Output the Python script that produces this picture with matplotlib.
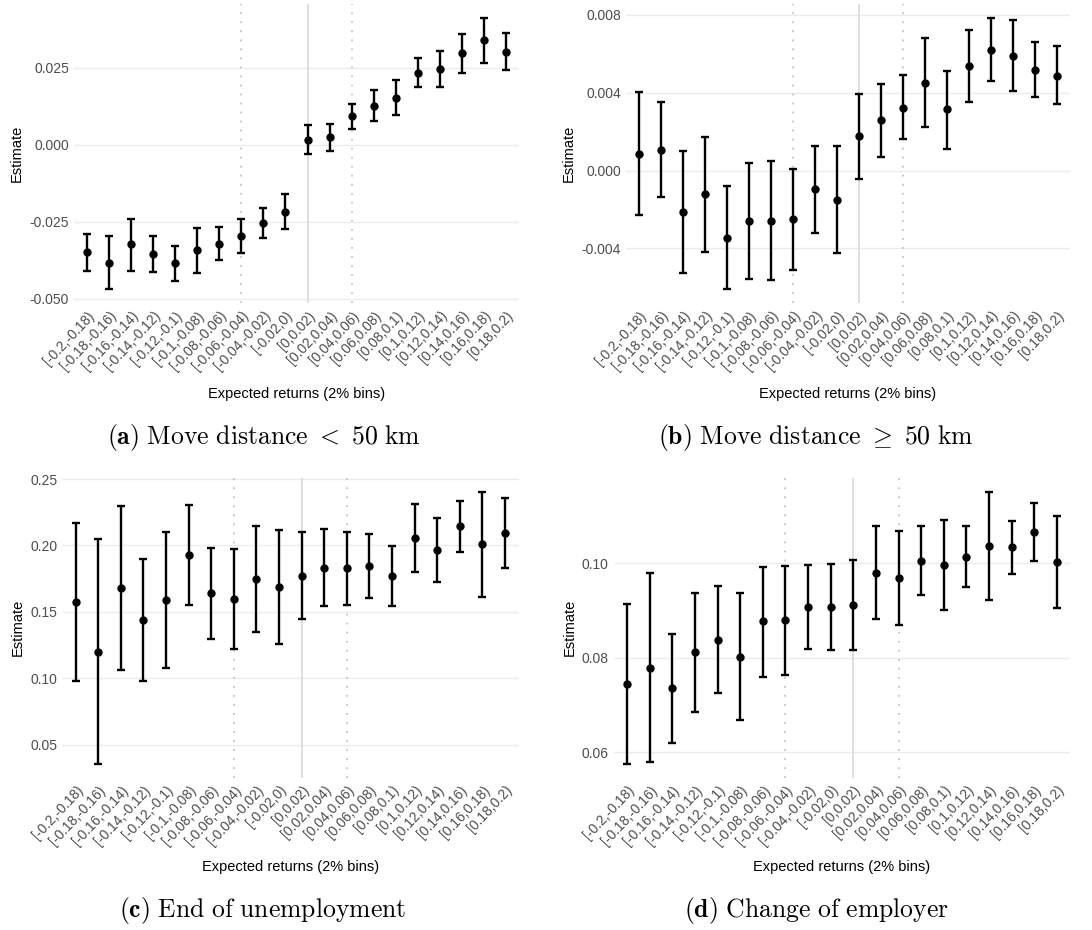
import numpy as np
import matplotlib
matplotlib.use("Agg")
import matplotlib.pyplot as plt
from matplotlib.ticker import FormatStrFormatter

plt.rcParams['font.family'] = ['Liberation Sans', 'DejaVu Sans']
plt.rcParams['mathtext.fontset'] = 'cm'

bins = ["[-0.2,-0.18)", "[-0.18,-0.16)", "[-0.16,-0.14)", "[-0.14,-0.12)", "[-0.12,-0.1)",
        "[-0.1,-0.08)", "[-0.08,-0.06)", "[-0.06,-0.04)", "[-0.04,-0.02)", "[-0.02,0)",
        "[0,0.02)", "[0.02,0.04)", "[0.04,0.06)", "[0.06,0.08)", "[0.08,0.1)",
        "[0.1,0.12)", "[0.12,0.14)", "[0.14,0.16)", "[0.16,0.18)", "[0.18,0.2)"]

# (a) move distance < 50 km
est_a = [-0.0347, -0.0383, -0.0323, -0.0354, -0.0384, -0.0342, -0.0320, -0.0295, -0.0253, -0.0216,
         0.0016, 0.0025, 0.0094, 0.0127, 0.0154, 0.0234, 0.0248, 0.0298, 0.0340, 0.0303]
lo_a = [-0.0408, -0.0469, -0.0410, -0.0413, -0.0441, -0.0416, -0.0373, -0.0351, -0.0303, -0.0274,
        -0.0029, -0.0019, 0.0053, 0.0077, 0.0098, 0.0187, 0.0189, 0.0235, 0.0267, 0.0243]
hi_a = [-0.0288, -0.0296, -0.0239, -0.0296, -0.0327, -0.0268, -0.0266, -0.0241, -0.0204, -0.0158,
        0.0064, 0.0067, 0.0134, 0.0178, 0.0210, 0.0281, 0.0306, 0.0360, 0.0412, 0.0364]

# (b) move distance >= 50 km
est_b = [0.00087, 0.00108, -0.00215, -0.00121, -0.00345, -0.00259, -0.00258, -0.00251, -0.00096, -0.00149,
         0.00176, 0.00258, 0.00324, 0.00451, 0.00314, 0.00536, 0.00621, 0.00589, 0.00519, 0.00488]
lo_b = [-0.00230, -0.00138, -0.00529, -0.00417, -0.00611, -0.00558, -0.00565, -0.00512, -0.00319, -0.00423,
        -0.00043, 0.00072, 0.00162, 0.00222, 0.00113, 0.00352, 0.00461, 0.00408, 0.00379, 0.00341]
hi_b = [0.00403, 0.00355, 0.00101, 0.00174, -0.00077, 0.00041, 0.00048, 0.00009, 0.00128, 0.00128,
        0.00393, 0.00446, 0.00490, 0.00679, 0.00512, 0.00722, 0.00784, 0.00773, 0.00661, 0.00638]

# (c) end of unemployment
est_c = [0.1572, 0.1200, 0.1682, 0.1436, 0.1589, 0.1928, 0.1639, 0.1599, 0.1747, 0.1684,
         0.1772, 0.1833, 0.1827, 0.1845, 0.1770, 0.2058, 0.1965, 0.2146, 0.2008, 0.2093]
lo_c = [0.0979, 0.0354, 0.1065, 0.0979, 0.1080, 0.1551, 0.1298, 0.1223, 0.1346, 0.1258,
        0.1444, 0.1541, 0.1551, 0.1602, 0.1546, 0.1802, 0.1725, 0.1953, 0.1614, 0.1827]
hi_c = [0.2166, 0.2048, 0.2299, 0.1898, 0.2101, 0.2307, 0.1981, 0.1973, 0.2149, 0.2114,
        0.2104, 0.2121, 0.2104, 0.2086, 0.1993, 0.2314, 0.2206, 0.2337, 0.2405, 0.2359]

# (d) change of employer
est_d = [0.0745, 0.0778, 0.0735, 0.0812, 0.0838, 0.0802, 0.0877, 0.0879, 0.0908, 0.0908,
         0.0912, 0.0980, 0.0968, 0.1006, 0.0997, 0.1014, 0.1037, 0.1034, 0.1066, 0.1003]
lo_d = [0.0575, 0.0578, 0.0619, 0.0685, 0.0725, 0.0668, 0.0760, 0.0763, 0.0819, 0.0816,
        0.0817, 0.0882, 0.0869, 0.0933, 0.0902, 0.0949, 0.0922, 0.0978, 0.1004, 0.0905]
hi_d = [0.0914, 0.0979, 0.0851, 0.0938, 0.0953, 0.0938, 0.0993, 0.0995, 0.0996, 0.0999,
        0.1008, 0.1079, 0.1068, 0.1080, 0.1092, 0.1080, 0.1152, 0.1090, 0.1128, 0.1100]

captions = [r"$\mathbf{(a)}\ \mathrm{Move\ distance}\ <\ 50\ \mathrm{km}$",
            r"$\mathbf{(b)}\ \mathrm{Move\ distance}\ \geq\ 50\ \mathrm{km}$",
            r"$\mathbf{(c)}\ \mathrm{End\ of\ unemployment}$",
            r"$\mathbf{(d)}\ \mathrm{Change\ of\ employer}$"]
yticks = [[-0.050, -0.025, 0.0, 0.025], [-0.004, 0.0, 0.004, 0.008],
          [0.05, 0.10, 0.15, 0.20, 0.25], [0.06, 0.08, 0.10]]
yfmt = ['%.3f', '%.3f', '%.2f', '%.2f']

W, H = 1092, 930
# axes boxes in pixels: left, right, top, bottom
boxes = [(74, 519, 4.5, 303), (626, 1070, 4.5, 303),
         (62, 518.6, 478, 777.5), (613.7, 1070.3, 478, 777.5)]
cap_pos = [(264, 437), (816, 437), (263, 910), (816, 910)]
xlab_y = [394, 394, 867, 867]

data = [(est_a, lo_a, hi_a), (est_b, lo_b, hi_b), (est_c, lo_c, hi_c), (est_d, lo_d, hi_d)]

fig = plt.figure(figsize=(W / 100, H / 100), dpi=100)
x = np.arange(len(bins))
for i, (est, lo, hi) in enumerate(data):
    l, r, t, b = boxes[i]
    ax = fig.add_axes([l / W, 1 - b / H, (r - l) / W, (b - t) / H])
    est = np.array(est); lo = np.array(lo); hi = np.array(hi)
    ax.axvline(10, color='#d9d9d9', lw=1.2, zorder=1)
    for v in (7, 12):
        ax.axvline(v, color='#c4c4c4', lw=1.3, ls=(0, (1, 4)), zorder=1)
    ax.errorbar(x, est, yerr=[est - lo, hi - est], fmt='o', color='black', ms=5,
                elinewidth=1.7, capsize=3, capthick=1.7, zorder=3)
    rng = hi.max() - lo.min()
    ax.set_ylim(lo.min() - 0.05 * rng, hi.max() + 0.05 * rng)
    ax.set_xlim(-0.6, len(bins) - 0.4)
    ax.set_yticks(yticks[i])
    ax.yaxis.set_major_formatter(FormatStrFormatter(yfmt[i]))
    ax.set_xticks(x)
    ax.set_xticklabels(bins, rotation=47, ha='right', rotation_mode='anchor')
    ax.grid(axis='y', color='#ebebeb', lw=1.0)
    ax.set_axisbelow(True)
    for s in ax.spines.values():
        s.set_visible(False)
    ax.tick_params(axis='both', length=0, labelsize=10, labelcolor='#4d4d4d')
    ax.tick_params(axis='x', pad=4)
    ax.set_ylabel("Estimate", fontsize=10.5, labelpad=4)
    fig.text((l + r) / 2 / W, 1 - xlab_y[i] / H, "Expected returns (2% bins)",
             ha='center', va='center', fontsize=10.5)
    fig.text(cap_pos[i][0] / W, 1 - cap_pos[i][1] / H, captions[i],
             ha='center', va='center', fontsize=18.5)

fig.savefig("out.png", dpi=100)
